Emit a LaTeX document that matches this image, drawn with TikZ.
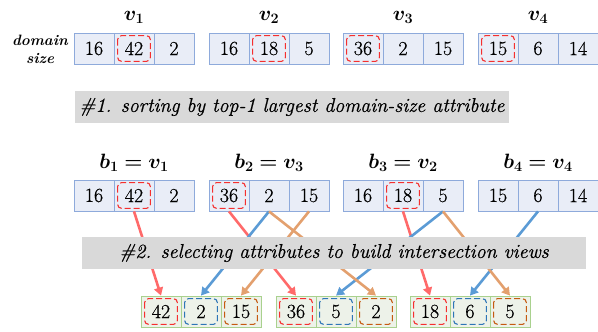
\documentclass[tikz,border=0pt]{standalone}
\usepackage{bm}
\usepackage{fontspec}
\usetikzlibrary{arrows.meta}

% slightly heavier Latin Modern for numbers and banners
\newfontfamily\heavylm{Latin Modern Roman}[FakeBold=0.7]
\newfontfamily\mediumlm{Latin Modern Roman}[FakeBold=0.5]

\definecolor{cellfill}{HTML}{E9EDF7}
\definecolor{cellline}{HTML}{8EAADB}
\definecolor{gfill}{HTML}{EDF2E9}
\definecolor{gline}{HTML}{A9D18E}
\definecolor{bannerfill}{HTML}{D9D9D9}
\definecolor{hlred}{HTML}{F52F2F}
\definecolor{hlblue}{HTML}{2E75B6}
\definecolor{hlorange}{HTML}{C55A11}
\definecolor{arred}{HTML}{FF6A6A}
\definecolor{arblue}{HTML}{5B9BD5}
\definecolor{arorange}{HTML}{E3A06E}

\newcommand{\numfont}{\mediumlm\fontsize{20}{22}\selectfont}

\begin{document}
\begin{tikzpicture}[x=1pt,y=-1pt,
  cell/.style={draw=cellline, fill=cellfill, line width=0.8pt,
    minimum width=40pt, minimum height=31pt, inner sep=0pt, font=\numfont},
  gcell/.style={cell, draw=gline, fill=gfill},
  hl/.style={draw=#1, line width=1.1pt, dash pattern=on 6pt off 3pt,
    rounded corners=4pt},
  conn/.style={draw=#1, line width=2.6pt,
    -{Triangle[width=9pt,length=8pt]}},
  banner/.style={fill=bannerfill, inner sep=0pt, minimum height=32pt,
    font=\heavylm\fontsize{20}{24}\selectfont\itshape},
  head/.style={font=\fontsize{21}{25}\selectfont},
]
\useasboundingbox (0,0) rectangle (598,332);

% row label
\node[font=\fontsize{15}{18}\selectfont\bfseries\itshape, align=center]
  (dsize) at (40,49) {domain\\size};

% original records v1..v4
\node[cell] (v1a) at (94,48.5) {16};
\node[cell] (v1b) at (134,48.5) {42};
\node[cell] (v1c) at (174,48.5) {2};
\node[cell] (v2a) at (229,48.5) {16};
\node[cell] (v2b) at (269,48.5) {18};
\node[cell] (v2c) at (309,48.5) {5};
\node[cell] (v3a) at (363,48.5) {36};
\node[cell] (v3b) at (403,48.5) {2};
\node[cell] (v3c) at (443,48.5) {15};
\node[cell] (v4a) at (498,48.5) {15};
\node[cell] (v4b) at (538,48.5) {6};
\node[cell] (v4c) at (578,48.5) {14};

\node[head] (hv1) at (134,17) {$\bm{v_1}$};
\node[head] (hv2) at (269,17) {$\bm{v_2}$};
\node[head] (hv3) at (403,17) {$\bm{v_3}$};
\node[head] (hv4) at (538,17) {$\bm{v_4}$};

% largest domain size in each record
\foreach \c in {v1b,v2b,v3a,v4a}
  \draw[hl=hlred] ([xshift=4pt,yshift=-3pt]\c.north west) rectangle ([xshift=-4pt,yshift=3pt]\c.south east);

% step 1 banner
\node[banner, minimum width=434pt] (step1) at (292,107)
  {\#1. sorting by top-1 largest domain-size attribute};

% sorted records b1..b4
\node[cell] (b1a) at (94,195.5) {16};
\node[cell] (b1b) at (134,195.5) {42};
\node[cell] (b1c) at (174,195.5) {2};
\node[cell] (b2a) at (229,195.5) {36};
\node[cell] (b2b) at (269,195.5) {2};
\node[cell] (b2c) at (309,195.5) {15};
\node[cell] (b3a) at (363,195.5) {16};
\node[cell] (b3b) at (403,195.5) {18};
\node[cell] (b3c) at (443,195.5) {5};
\node[cell] (b4a) at (498,195.5) {15};
\node[cell] (b4b) at (538,195.5) {6};
\node[cell] (b4c) at (578,195.5) {14};

\node[head] (hb1) at (134,163) {$\bm{b_1 = v_1}$};
\node[head] (hb2) at (269,163) {$\bm{b_2 = v_3}$};
\node[head] (hb3) at (403,163) {$\bm{b_3 = v_2}$};
\node[head] (hb4) at (538,163) {$\bm{b_4 = v_4}$};

\foreach \c in {b1b,b2a,b3b}
  \draw[hl=hlred] ([xshift=4pt,yshift=-3pt]\c.north west) rectangle ([xshift=-4pt,yshift=3pt]\c.south east);

% intersection views
\node[gcell] (g1a) at (161,311.5) {42};
\node[gcell] (g1b) at (201,311.5) {2};
\node[gcell] (g1c) at (241,311.5) {15};
\node[gcell] (g2a) at (296,311.5) {36};
\node[gcell] (g2b) at (336,311.5) {5};
\node[gcell] (g2c) at (376,311.5) {2};
\node[gcell] (g3a) at (430,311.5) {18};
\node[gcell] (g3b) at (470,311.5) {6};
\node[gcell] (g3c) at (510,311.5) {5};

\foreach \c in {g1a,g2a,g3a}
  \draw[hl=hlred] ([xshift=4pt,yshift=-3pt]\c.north west) rectangle ([xshift=-4pt,yshift=3pt]\c.south east);
\foreach \c in {g1b,g2b,g3b}
  \draw[hl=hlblue] ([xshift=4pt,yshift=-3pt]\c.north west) rectangle ([xshift=-4pt,yshift=3pt]\c.south east);
\foreach \c in {g1c,g2c,g3c}
  \draw[hl=hlorange] ([xshift=4pt,yshift=-3pt]\c.north west) rectangle ([xshift=-4pt,yshift=3pt]\c.south east);

% attribute selection
\draw[conn=arred] (b1b.south) -- (g1a.north);
\draw[conn=arred] (b2a.south) -- (g2a.north);
\draw[conn=arred] (b3b.south) -- (g3a.north);
\draw[conn=arblue] (b2b.south) -- (g1b.north);
\draw[conn=arblue] (b3c.south) -- (g2b.north);
\draw[conn=arblue] (b4b.south) -- (g3b.north);
\draw[conn=arorange] (b2c.south) -- (g1c.north);
\draw[conn=arorange] (b2b.south) -- (g2c.north);
\draw[conn=arorange] (b3c.south) -- (g3c.north);

% step 2 banner, laid over the connectors
\node[banner, minimum width=504pt] (step2) at (334,253)
  {\#2. selecting attributes to build intersection views};
\end{tikzpicture}
\end{document}
